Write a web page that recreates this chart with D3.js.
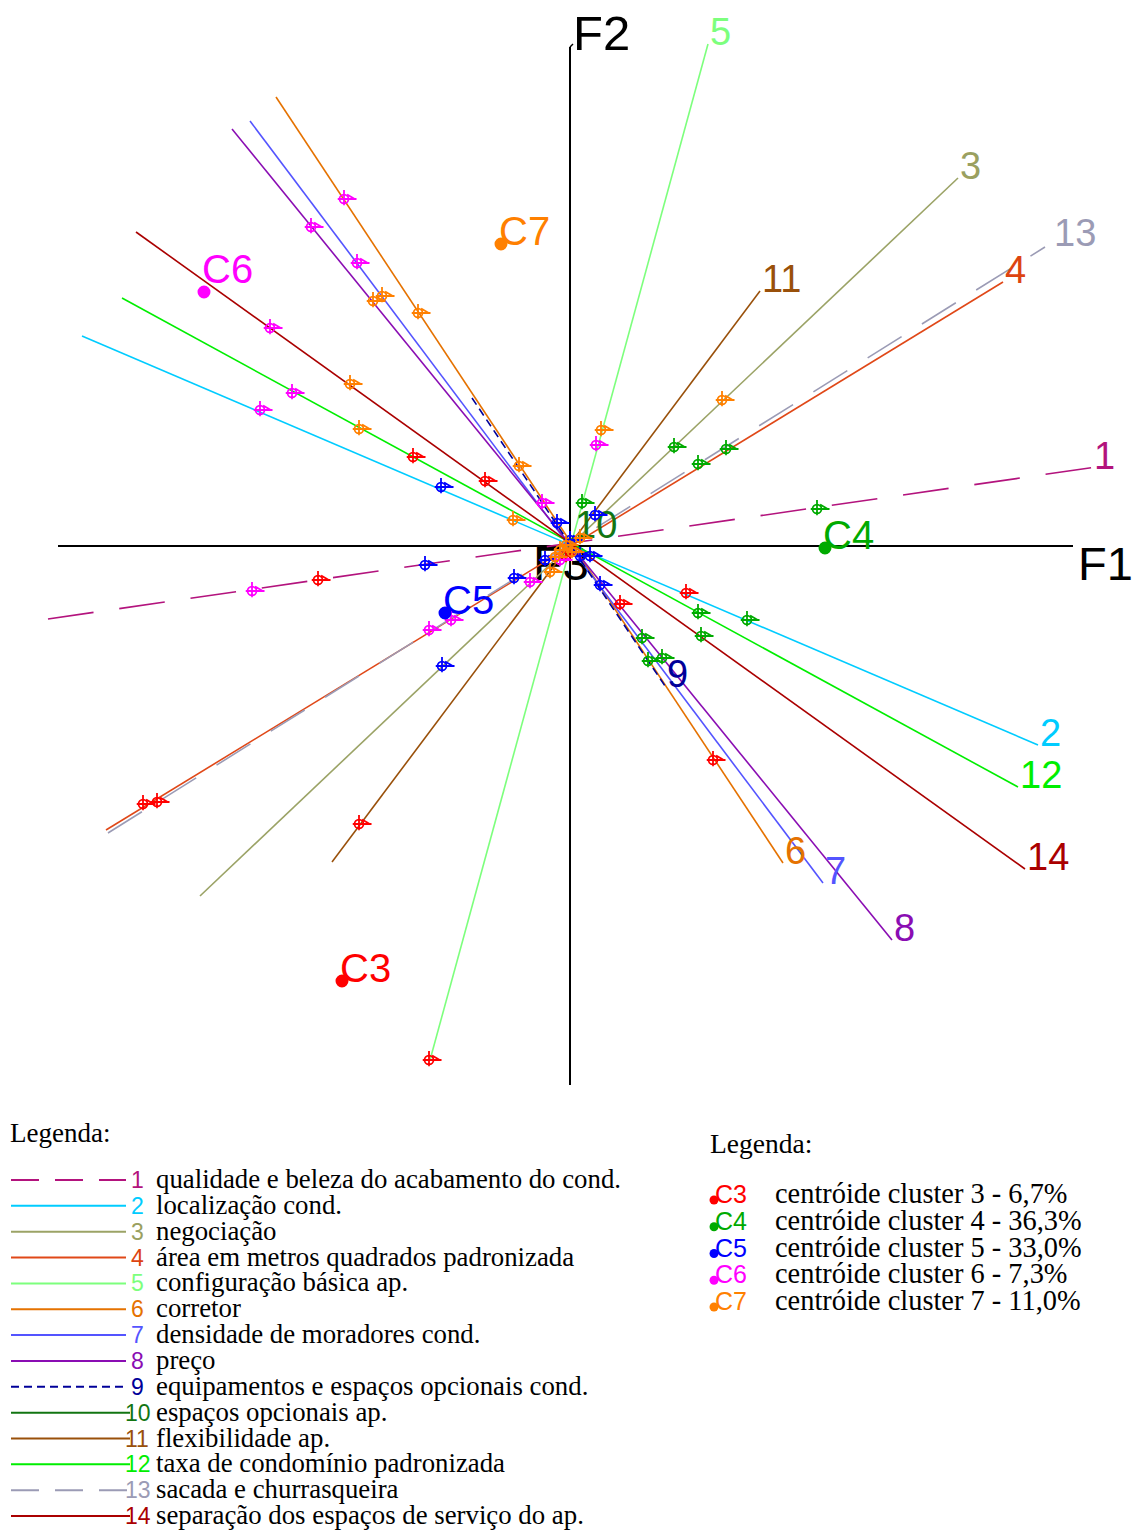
<!DOCTYPE html>
<html>
<head>
<meta charset="utf-8">
<script src="https://cdn.jsdelivr.net/npm/d3@7"></script>
<style>
  body { margin: 0; background: #fff; }
  svg { display: block; }
</style>
</head>
<body>
<svg id="chart" width="1134" height="1530"></svg>
<script>
// ---------- variables (biplot axes), coordinates in F1/F2 units ----------
const varIds = ["1","2","3","4","5","6","7","8","9","10","11","12","13","14"];
const varNames = [
  "qualidade e beleza do acabamento do cond.",
  "localização cond.",
  "negociação",
  "área em metros quadrados padronizada",
  "configuração básica ap.",
  "corretor",
  "densidade de moradores cond.",
  "preço",
  "equipamentos e espaços opcionais cond.",
  "espaços opcionais ap.",
  "flexibilidade ap.",
  "taxa de condomínio padronizada",
  "sacada e churrasqueira",
  "separação dos espaços de serviço do ap."
];
// negative end of each variable axis
const varFromF1 = [-5.22, -4.88, -3.70, -4.64, -1.40, -2.94, -3.20, -3.38, -0.98, -0.10, -2.38, -4.48, -4.62, -4.34];
const varFromF2 = [-0.73,  2.10, -3.50, -2.84, -5.14,  4.49,  4.25,  4.17,  1.48, -0.14, -3.16,  2.48, -2.87,  3.14];
// labelled (positive) end of each variable axis
const varToF1   = [ 5.33,  4.68,  3.88,  4.33,  1.38,  2.13,  2.53,  3.22,  0.95,  0.03,  1.90,  4.48,  4.75,  4.55];
const varToF2   = [ 0.80, -1.99,  3.68,  2.64,  5.02, -3.17, -3.37, -3.94, -1.40,  0.09,  2.55, -2.41,  2.99, -3.23];

// ---------- clusters ----------
const clusterIds = ["C3", "C4", "C5", "C6", "C7"];
const clusterNums = [3, 4, 5, 6, 7];
const clusterShare = [6.7, 36.3, 33.0, 7.3, 11.0];
const centroidF1 = [-2.28, 2.55, -1.25, -3.66, -0.69];
const centroidF2 = [-4.35, -0.02, -0.67, 2.54, 3.02];

// projections of each cluster onto the variable axes, [F1, F2]
const projC3 = [[-1.57, 0.89], [-0.85, 0.65], [-2.52, -0.34], [-4.27, -2.58], [-4.13, -2.56],
                [-2.11, -2.78], [-1.41, -5.14], [1.16, -0.47], [0.50, -0.58], [1.43, -2.14], [-0.04, -0.10]];
const projC4 = [[1.04, 0.99], [1.56, 0.97], [1.28, 0.82], [2.47, 0.37], [0.12, 0.43],
                [1.28, -0.67], [1.31, -0.90], [1.77, -0.74], [0.72, -0.92], [0.78, -1.15], [0.92, -1.12]];
const projC5 = [[-1.29, 0.59], [-1.45, -0.19], [-1.28, -1.20], [-0.56, -0.32], [-0.13, 0.23],
                [0.25, 0.31], [0.30, -0.39], [0.20, -0.10], [0.10, -0.10], [-0.25, -0.14], [0.00, 0.06]];
const projC6 = [[-2.26, 3.47], [-2.59, 3.19], [-2.13, 2.83], [-3.00, 2.18], [-2.78, 1.53], [-3.10, 1.36],
                [-3.18, -0.45], [-1.41, -0.84], [-1.19, -0.74], [0.26, 1.01], [-0.28, 0.43], [-0.40, -0.36], [-0.10, -0.14]];
const projC7 = [[-1.52, 2.33], [-1.97, 2.45], [-1.88, 2.50], [-2.20, 1.62], [-2.11, 1.17], [-0.57, 0.26],
                [-0.51, 0.80], [0.31, 1.16], [1.52, 1.46], [-0.20, -0.26], [-0.10, -0.04], [-0.04, 0.01],
                [0.02, -0.06], [0.10, 0.08], [-0.15, -0.11]];

// ---------- factor axes ----------
const axisF1 = [-5.12, 5.03];
const axisF2 = [-5.39, 4.99];
const axisNames = ["F1", "F2", "F3"];

// ---------- styling ----------
const varColor = ["#b3137d", "#00ccff", "#9ba366", "#e04818", "#7dff7d", "#e57200", "#5454ff",
                  "#8a0db3", "#000099", "#127512", "#99500a", "#00ee00", "#9b9bb5", "#aa0000"];
const varLabelColor = ["#b3137d", "#00ccff", "#9aa060", "#dd4411", "#7dff7d", "#e57200", "#5454ff",
                       "#8a0db3", "#000099", "#127512", "#99500a", "#00ee00", "#9b9bb5", "#aa0000"];
const varDashChart  = ["46,26", null, null, null, null, null, null, null, "8,5", null, null, null, "40,24", null];
const varDashLegend = ["28,16", null, null, null, null, null, null, null, "8,5", null, null, null, "28,16", null];
const clusterColor = ["#ff0000", "#00aa00", "#0000ff", "#ff00ff", "#ff8000"];

const SANS = "'Liberation Sans', Arial, Helvetica, sans-serif";
const SERIF = "'Liberation Serif', 'Times New Roman', Times, serif";

const svg = d3.select("#chart");
const x = d3.scaleLinear().domain(axisF1).range([58, 1073]);
const y = d3.scaleLinear().domain(axisF2).range([1085, 47]);
const line = d3.line().x(d => x(d[0])).y(d => y(d[1]));

// factor axes through the origin
const axes = svg.append("g").attr("stroke", "#000").attr("stroke-width", 2).attr("fill", "none");
axes.append("path").attr("d", line([[axisF1[0], 0], [axisF1[1], 0]]));
axes.append("path").attr("d", line([[0, axisF2[0]], [0, axisF2[1]]]));
axes.append("path").attr("stroke-width", 1.5)
  .attr("d", `M${x(0)},${y(axisF2[1])} l3,-3`);

const axisText = svg.append("g").attr("font-family", SANS).attr("fill", "#000");
axisText.append("text").attr("x", x(axisF1[1]) + 5).attr("y", y(0) + 34)
  .attr("font-size", 47).text(axisNames[0]);
axisText.append("text").attr("x", x(0) + 3).attr("y", y(axisF2[1]) + 3)
  .attr("font-size", 49).text(axisNames[1]);
axisText.append("text").attr("x", x(-0.37)).attr("y", y(-0.34))
  .attr("font-size", 48).text(axisNames[2]);

// variable axes
const vars = varIds.map((id, i) => ({
  id, i,
  from: [varFromF1[i], varFromF2[i]],
  to: [varToF1[i], varToF2[i]]
}));

svg.append("g").attr("fill", "none").attr("stroke-width", 1.6)
  .selectAll("path").data(vars).join("path")
  .attr("stroke", d => varColor[d.i])
  .attr("stroke-dasharray", d => varDashChart[d.i])
  .attr("d", d => line([d.from, d.to]));

// label offsets from the axis end, in pixels
const labelShift = { "1": [-11, 2], "13": [7, -2] };
svg.append("g").attr("font-family", SANS).attr("font-size", 38)
  .selectAll("text").data(vars).join("text")
  .attr("fill", d => varLabelColor[d.i])
  .attr("x", d => x(d.to[0]) + 2 + (labelShift[d.id] ? labelShift[d.id][0] : 0))
  .attr("y", d => y(d.to[1]) + 1 + (labelShift[d.id] ? labelShift[d.id][1] : 0))
  .text(d => d.id);

// cluster centroid labels
const clusters = clusterIds.map((id, i) => ({
  id, i, c: [centroidF1[i], centroidF2[i]],
  proj: [projC3, projC4, projC5, projC6, projC7][i]
}));

svg.append("g").attr("font-family", SANS).attr("font-size", 40)
  .selectAll("text").data(clusters).join("text")
  .attr("fill", d => clusterColor[d.i])
  .attr("x", d => x(d.c[0]) - 2)
  .attr("y", d => y(d.c[1]) + (d.id === "C6" ? -9 : 1))
  .text(d => d.id);

// projection marker: ring with crosshair and tail
const reticle = {
  draw(ctx, size) {
    const r = Math.sqrt(size / Math.PI);
    ctx.moveTo(r, 0);
    ctx.arc(0, 0, r, 0, 2 * Math.PI);
    ctx.moveTo(0, -r * 2);
    ctx.lineTo(0, r * 1.4);
    ctx.moveTo(-r * 1.4, 0);
    ctx.lineTo(r * 2.8, 0);
    ctx.moveTo(r * 0.7, -r * 1.0);
    ctx.lineTo(r * 2.4, 0);
  }
};
const markerSym = d3.symbol().type(reticle).size(Math.PI * 20);

clusters.forEach(cl => {
  svg.append("g").attr("fill", "none").attr("stroke", clusterColor[cl.i]).attr("stroke-width", 1.8)
    .selectAll("path").data(cl.proj).join("path")
    .attr("transform", d => `translate(${x(d[0])},${y(d[1])})`)
    .attr("d", markerSym);
});

// centroids
svg.append("g").selectAll("path").data(clusters).join("path")
  .attr("fill", d => clusterColor[d.i])
  .attr("transform", d => `translate(${x(d.c[0])},${y(d.c[1])})`)
  .attr("d", d3.symbol().type(d3.symbolCircle).size(Math.PI * 42));

// ---------- legend: variables ----------
const leg1 = svg.append("g");
leg1.append("text").attr("x", 10).attr("y", 1142)
  .attr("font-family", SERIF).attr("font-size", 27).attr("fill", "#000").text("Legenda:");
const rowY = i => 1180 + 25.85 * i;
const rows1 = leg1.selectAll("g").data(vars).join("g")
  .attr("transform", d => `translate(0,${rowY(d.i)})`);
rows1.append("line")
  .attr("x1", 11).attr("x2", d => d.id.length > 1 ? 130 : 126)
  .attr("y1", 0).attr("y2", 0)
  .attr("stroke", d => varColor[d.i]).attr("stroke-width", 2)
  .attr("stroke-dasharray", d => varDashLegend[d.i]);
rows1.append("text")
  .attr("x", d => d.id.length > 1 ? 125 : 131).attr("y", 8)
  .attr("font-family", SANS).attr("font-size", 23)
  .attr("fill", d => varLabelColor[d.i]).text(d => d.id);
rows1.append("text")
  .attr("x", 156).attr("y", 8)
  .attr("font-family", SERIF).attr("font-size", 26.8).attr("fill", "#000")
  .text(d => varNames[d.i]);

// ---------- legend: clusters ----------
const leg2 = svg.append("g");
leg2.append("text").attr("x", 710).attr("y", 1153)
  .attr("font-family", SERIF).attr("font-size", 27.5).attr("fill", "#000").text("Legenda:");
const rowY2 = i => 1193 + 26.75 * i;
const fmt = v => d3.format(".1f")(v).replace(".", ",");
const rows2 = leg2.selectAll("g").data(clusters).join("g")
  .attr("transform", d => `translate(0,${rowY2(d.i)})`);
rows2.append("path")
  .attr("transform", "translate(714,7)")
  .attr("fill", d => clusterColor[d.i])
  .attr("d", d3.symbol().type(d3.symbolCircle).size(Math.PI * 20));
rows2.append("text").attr("x", 715).attr("y", 10)
  .attr("font-family", SANS).attr("font-size", 25)
  .attr("fill", d => clusterColor[d.i]).text(d => d.id);
rows2.append("text").attr("x", 775).attr("y", 10)
  .attr("font-family", SERIF).attr("font-size", 28.4).attr("fill", "#000")
  .text(d => `centróide cluster ${clusterNums[d.i]} - ${fmt(clusterShare[d.i])}%`);
</script>
</body>
</html>
